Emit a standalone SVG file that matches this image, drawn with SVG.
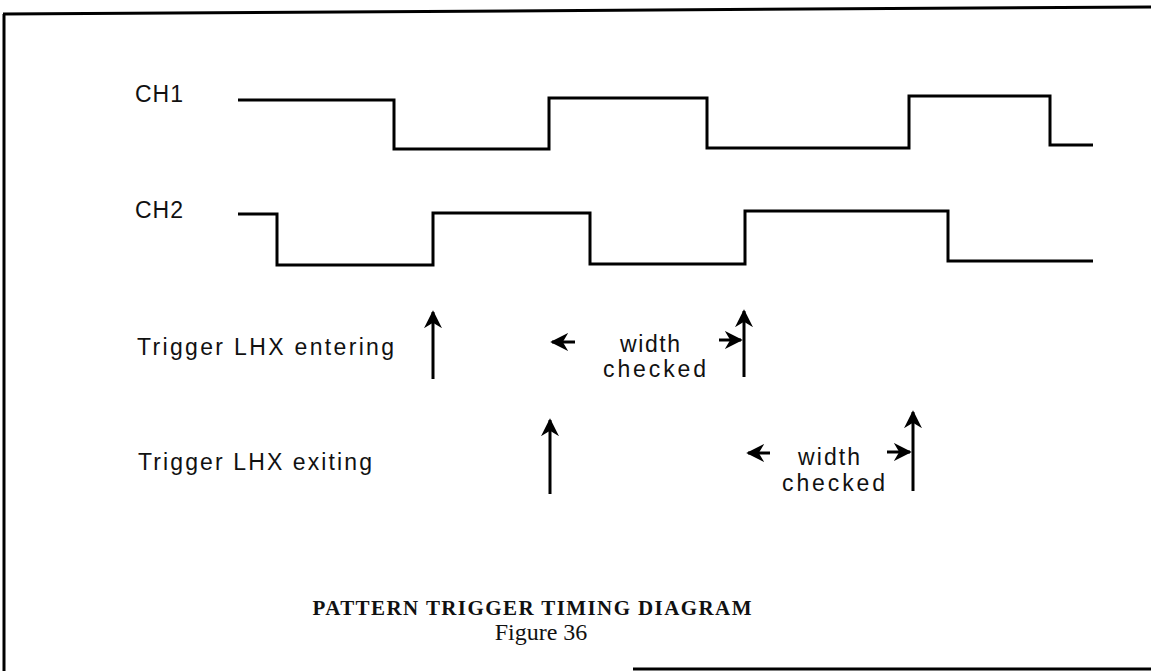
<svg xmlns="http://www.w3.org/2000/svg" width="1151" height="671" viewBox="0 0 1151 671">
<style>
.wave{fill:none;stroke:#000;stroke-width:3;stroke-linejoin:miter}
.frame{fill:none;stroke:#000;stroke-width:3}
.lbl{font-family:"Liberation Sans",Arial,sans-serif;font-size:23px;fill:#111}
.cap{font-family:"Liberation Serif","Times New Roman",serif;fill:#111;text-anchor:middle}
.arr{stroke:#000;stroke-width:3;fill:none}
</style>
<defs>
<marker id="head" viewBox="0 0 10 10" refX="9" refY="5" markerWidth="6" markerHeight="7" markerUnits="strokeWidth" orient="auto">
<path d="M0,0 L10,5 L0,10 L3,5 Z" fill="#000"/>
</marker>
</defs>
<rect width="1151" height="671" fill="#fff"/>
<g id="frame">
<path class="frame" d="M3,14 L1151,7"/>
<path class="frame" d="M4,14 L4,671"/>
<path class="frame" d="M633,669 L1151,669"/>
</g>
<g id="ch1">
<text class="lbl" x="135" y="102" textLength="48" lengthAdjust="spacing">CH1</text>
<path class="wave" d="M238,100 H394 V149 H549 V98 H707 V148 H909 V96 H1050 V145 H1093"/>
</g>
<g id="ch2">
<text class="lbl" x="135" y="218" textLength="48" lengthAdjust="spacing">CH2</text>
<path class="wave" d="M238,214 H277 V265 H433 V213 H590 V264 H745 V211 H948 V261 H1093"/>
</g>
<g id="entering">
<text class="lbl" x="137" y="355" textLength="257" lengthAdjust="spacing">Trigger LHX entering</text>
<text class="lbl" x="620" y="352" textLength="60" lengthAdjust="spacing">width</text>
<text class="lbl" x="603" y="377" textLength="103" lengthAdjust="spacing">checked</text>
</g>
<g id="exiting">
<text class="lbl" x="138" y="470" textLength="234" lengthAdjust="spacing">Trigger LHX exiting</text>
<text class="lbl" x="798" y="465" textLength="62" lengthAdjust="spacing">width</text>
<text class="lbl" x="782" y="491" textLength="103" lengthAdjust="spacing">checked</text>
</g>
<g id="connectors">
<line class="arr" x1="433" y1="379" x2="433" y2="312" marker-end="url(#head)"/>
<line class="arr" x1="744" y1="377" x2="744" y2="311" marker-end="url(#head)"/>
<line class="arr" x1="550" y1="494" x2="550" y2="420" marker-end="url(#head)"/>
<line class="arr" x1="913" y1="491" x2="913" y2="412" marker-end="url(#head)"/>
<line class="arr" x1="575" y1="342" x2="552" y2="342" marker-end="url(#head)"/>
<line class="arr" x1="719" y1="340" x2="741" y2="340" marker-end="url(#head)"/>
<line class="arr" x1="770" y1="453" x2="748" y2="453" marker-end="url(#head)"/>
<line class="arr" x1="887" y1="452" x2="910" y2="452" marker-end="url(#head)"/>
</g>
<g id="caption">
<text class="cap" x="532" y="615" font-size="21" font-weight="bold" textLength="439" lengthAdjust="spacing">PATTERN TRIGGER TIMING DIAGRAM</text>
<text class="cap" x="541" y="640" font-size="24">Figure 36</text>
</g>
</svg>
